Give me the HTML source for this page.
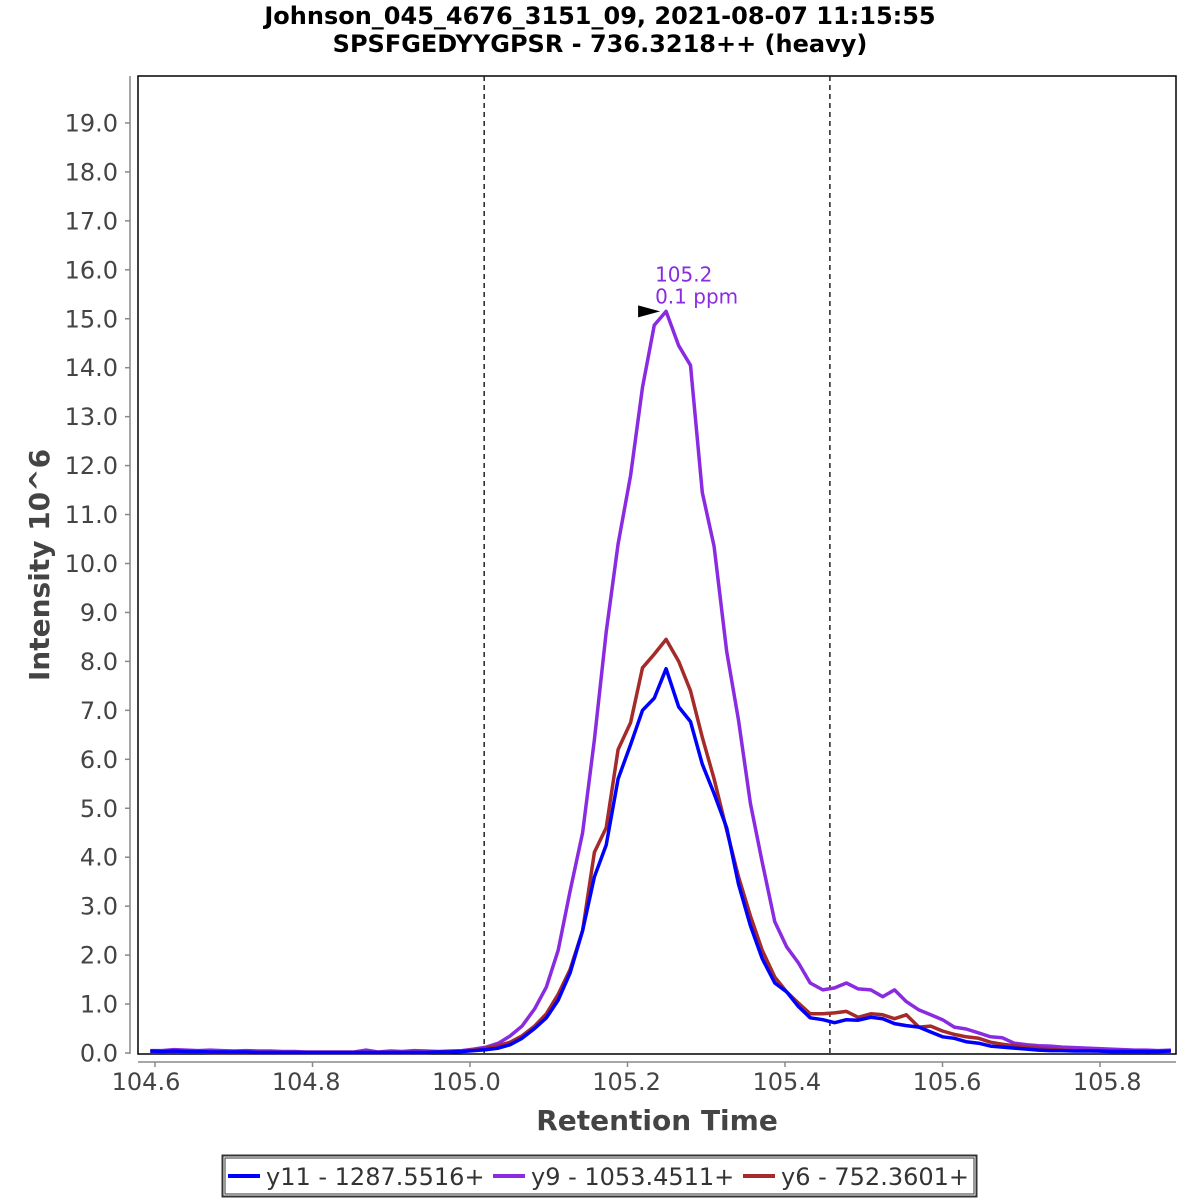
<!DOCTYPE html>
<html><head><meta charset="utf-8">
<style>
html,body{margin:0;padding:0;background:#fff;}
svg{display:block;font-family:"DejaVu Sans","Liberation Sans",sans-serif;}
</style></head>
<body>
<svg id="chart" width="1200" height="1200" viewBox="0 0 1200 1200" xmlns="http://www.w3.org/2000/svg">
<rect x="0" y="0" width="1200" height="1200" fill="#fff"/>
<text x="600" y="24" text-anchor="middle" font-size="24" font-weight="bold" fill="#000">Johnson_045_4676_3151_09, 2021-08-07 11:15:55</text>
<text x="600" y="52" text-anchor="middle" font-size="24" font-weight="bold" fill="#000">SPSFGEDYYGPSR - 736.3218++ (heavy)</text>
<rect x="138" y="76" width="1038" height="978" fill="#fff" stroke="#000" stroke-width="1.5"/>
<g id="yaxis"></g>
<g id="xaxis"></g>
<g id="marks"></g>
<text transform="translate(49,565) rotate(-90)" text-anchor="middle" font-size="28" font-weight="bold" fill="#444">Intensity 10^6</text>
<text x="657" y="1130" text-anchor="middle" font-size="28" font-weight="bold" fill="#444">Retention Time</text>
<g>
<rect x="222.5" y="1155.5" width="754" height="41" fill="#fff" stroke="#333" stroke-width="2"/>
<rect x="225" y="1158" width="749" height="36" fill="none" stroke="#333" stroke-width="1"/>
<g><line x1="228" y1="1176" x2="260" y2="1176" stroke="#0000ff" stroke-width="4"/><text x="266" y="1185" font-size="24" fill="#333">y11 - 1287.5516+</text></g>
<g><line x1="493" y1="1176" x2="525" y2="1176" stroke="#8a2be2" stroke-width="4"/><text x="531" y="1185" font-size="24" fill="#333">y9 - 1053.4511+</text></g>
<g><line x1="743" y1="1176" x2="775" y2="1176" stroke="#a52a2a" stroke-width="4"/><text x="781" y="1185" font-size="24" fill="#333">y6 - 752.3601+</text></g>
</g>
</svg>
<script>
const times = [104.594,104.609,104.624,104.640,104.655,104.670,104.685,104.701,104.716,104.731,104.746,104.762,104.777,104.792,104.807,104.823,104.838,104.853,104.868,104.883,104.899,104.914,104.929,104.944,104.960,104.975,104.990,105.005,105.021,105.036,105.051,105.066,105.082,105.097,105.112,105.127,105.143,105.158,105.173,105.188,105.204,105.219,105.234,105.249,105.265,105.280,105.295,105.310,105.326,105.341,105.356,105.371,105.387,105.402,105.417,105.432,105.448,105.463,105.478,105.493,105.509,105.524,105.539,105.554,105.570,105.585,105.600,105.615,105.630,105.646,105.661,105.676,105.691,105.707,105.722,105.737,105.752,105.768,105.783,105.798,105.813,105.829,105.844,105.859,105.874,105.890];
const y11 = [0.04,0.03,0.04,0.03,0.03,0.02,0.02,0.02,0.02,0.01,0.01,0.01,0.01,0.01,0.01,0.01,0.01,0.01,0.01,0.01,0.01,0.01,0.01,0.01,0.02,0.02,0.03,0.05,0.07,0.1,0.17,0.3,0.5,0.72,1.08,1.63,2.5,3.6,4.25,5.6,6.3,7.0,7.25,7.85,7.07,6.77,5.9,5.3,4.6,3.45,2.6,1.93,1.43,1.25,0.95,0.72,0.68,0.62,0.68,0.67,0.73,0.7,0.6,0.56,0.53,0.43,0.33,0.3,0.23,0.2,0.14,0.12,0.1,0.08,0.06,0.05,0.05,0.04,0.04,0.04,0.03,0.03,0.03,0.03,0.03,0.04];
const y9 = [0.05,0.05,0.07,0.06,0.05,0.06,0.05,0.04,0.05,0.04,0.04,0.03,0.03,0.02,0.02,0.02,0.02,0.02,0.06,0.02,0.04,0.03,0.05,0.04,0.03,0.04,0.05,0.08,0.12,0.2,0.35,0.55,0.9,1.35,2.1,3.3,4.5,6.4,8.6,10.4,11.8,13.6,14.87,15.15,14.45,14.05,11.45,10.35,8.2,6.8,5.1,3.9,2.68,2.17,1.84,1.43,1.29,1.33,1.43,1.31,1.29,1.15,1.29,1.05,0.88,0.78,0.68,0.53,0.49,0.41,0.33,0.31,0.2,0.17,0.15,0.14,0.12,0.11,0.1,0.09,0.08,0.07,0.06,0.06,0.05,0.06];
const y6 = [0.02,0.02,0.02,0.02,0.02,0.01,0.01,0.01,0.01,0.01,0.01,0.01,0.01,0.01,0.01,0.01,0.01,0.01,0.01,0.01,0.01,0.01,0.01,0.01,0.02,0.02,0.04,0.06,0.1,0.15,0.22,0.35,0.55,0.8,1.2,1.7,2.5,4.1,4.6,6.2,6.75,7.87,8.15,8.45,8.0,7.4,6.45,5.6,4.55,3.6,2.8,2.1,1.55,1.25,1.02,0.8,0.8,0.82,0.85,0.73,0.8,0.78,0.7,0.78,0.53,0.55,0.45,0.38,0.33,0.3,0.22,0.18,0.15,0.12,0.1,0.08,0.06,0.05,0.05,0.04,0.04,0.04,0.04,0.03,0.04,0.04];
const yTicks = [0,1,2,3,4,5,6,7,8,9,10,11,12,13,14,15,16,17,18,19];
const xTicks = [104.6,104.8,105.0,105.2,105.4,105.6,105.8];
const boundaries = [105.018,105.457];
const peakTime = 105.249, peakValue = 15.15;
const peakLabels = ["105.2","0.1 ppm"];

const NS = "http://www.w3.org/2000/svg";
function X(t){ return 155 + (t - 104.6) * 787.5; }
function XL(t){ return 146 + (t - 104.6) * 801; }
function Y(v){ return 1053 - v * 48.95; }
function mk(tag, attrs, parent){ const e = document.createElementNS(NS, tag); for (const k in attrs) e.setAttribute(k, attrs[k]); parent.appendChild(e); return e; }

const ya = document.getElementById('yaxis');
mk('line',{x1:130,y1:76,x2:130,y2:1054,stroke:'#888','stroke-width':1.5},ya);
yTicks.forEach(v=>{
  const g = mk('g',{},ya);
  
  
  mk('line',{x1:125,y1:Y(v),x2:130,y2:Y(v),stroke:'#888','stroke-width':1.5},g);
  const t = mk('text',{x:118,y:Y(v)+8.5,'text-anchor':'end','font-size':24,fill:'#444'},g);
  t.textContent = v.toFixed(1);
});
const xa = document.getElementById('xaxis');
mk('line',{x1:138,y1:1062,x2:1176,y2:1062,stroke:'#888','stroke-width':1.5},xa);
xTicks.forEach(v=>{
  const g = mk('g',{},xa);
  
  
  mk('line',{x1:X(v),y1:1062,x2:X(v),y2:1067,stroke:'#888','stroke-width':1.5},g);
  const t = mk('text',{x:XL(v),y:1090,'text-anchor':'middle','font-size':24,fill:'#444'},g);
  t.textContent = v.toFixed(1);
});
const m = document.getElementById('marks');
boundaries.forEach(b=>{
  const l = mk('line',{x1:X(b),y1:76,x2:X(b),y2:1054,stroke:'#222','stroke-width':1.5,'stroke-dasharray':'5,4'},m);
  
  
});
function series(vals, color, name){
  const d = vals.map((v,i)=>(i?'L':'M')+X(times[i]).toFixed(1)+','+Y(v).toFixed(1)).join(' ');
  const p = mk('path',{d:d,fill:'none',stroke:color,'stroke-width':3.5,'stroke-linejoin':'round'},m);
  
  
}
series(y9,'#8a2be2','series-y9');
series(y6,'#a52a2a','series-y6');
series(y11,'#0000ff','series-y11');
const px = X(peakTime), py = Y(peakValue);
const arrow = mk('polygon',{points:(px-6)+','+py+' '+(px-28)+','+(py-6)+' '+(px-28)+','+(py+6),fill:'#000'},m);


peakLabels.forEach((s,i)=>{
  const t = mk('text',{x:px-11,y:py-30+i*22,'font-size':20,fill:'#8a2be2'},m);
  
  
  t.textContent = s;
});
</script>
</body></html>
